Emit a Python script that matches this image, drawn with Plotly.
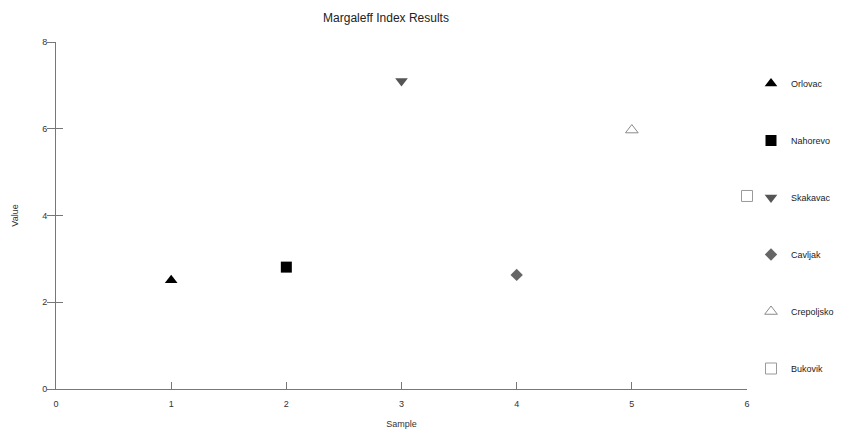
import plotly.graph_objects as go

sites = ["Orlovac", "Nahorevo", "Skakavac", "Cavljak", "Crepoljsko", "Bukovik"]
samples = [1, 2, 3, 4, 5, 6]
values = [2.51, 2.81, 7.10, 2.63, 5.97, 4.45]
symbols = ["triangle-up", "square", "triangle-down", "diamond", "triangle-up-open", "square-open"]
colors = ["#000000", "#000000", "#555555", "#666666", "#8a8a8a", "#9a9a9a"]
sizes = [11, 11, 11, 9.5, 11, 11]
x_ticks = [0, 1, 2, 3, 4, 5, 6]
y_ticks = [0, 2, 4, 6, 8]

FONT = "Liberation Sans, Arial, sans-serif"
# the page adds an 8px body margin, so the figure is 8px smaller and margins shifted
W, H = 836, 424
L, T, B, R = 48, 34, 43, 97
PW, PH = W - L - R, H - T - B

fig = go.Figure()
for i, name in enumerate(sites):
    fig.add_trace(go.Scatter(
        x=[samples[i]], y=[values[i]], mode="markers", name=name,
        legendgroup=name, cliponaxis=False,
        marker=dict(symbol=symbols[i], size=sizes[i], color=colors[i],
                    line=dict(width=1 if "open" in symbols[i] else 0, color=colors[i])),
    ))
# invisible helper trace to show inner half of the y ticks
fig.add_trace(go.Scatter(x=[samples[0]], y=[values[0]], yaxis="y2", mode="markers",
                         marker=dict(opacity=0), showlegend=False, hoverinfo="skip"))

fig.update_layout(
    width=W, height=H,
    margin=dict(l=L, r=R, t=T, b=B, autoexpand=False),
    paper_bgcolor="white", plot_bgcolor="white",
    font=dict(family=FONT, size=9, color="#333333"),
    title=dict(text="Margaleff Index Results", x=(386 - 8 - L) / PW, xref="paper",
               xanchor="center", y=1 - 10 / H, yanchor="middle",
               font=dict(size=12, color="#222222"), automargin=False),
    xaxis=dict(range=[0, 6], tickvals=x_ticks, showgrid=False, zeroline=False,
               showline=True, linecolor="#777777", linewidth=1,
               ticks="inside", ticklen=7, tickcolor="#777777",
               ticklabelstandoff=6, automargin=False,
               title=dict(text="Sample", standoff=12, font=dict(size=9))),
    yaxis=dict(range=[0, 8], tickvals=y_ticks, showgrid=False, zeroline=False,
               showline=True, linecolor="#777777", linewidth=1,
               ticks="outside", ticklen=8, tickcolor="#777777",
               ticklabelstandoff=-2, automargin=False,
               title=dict(text="Value", standoff=22, font=dict(size=9))),
    yaxis2=dict(range=[0, 8], tickvals=y_ticks, overlaying="y", side="left",
                showgrid=False, zeroline=False, showline=False,
                ticks="inside", ticklen=7, tickcolor="#777777", showticklabels=False),
    legend=dict(x=1.0 + (743 - (W - R)) / PW, xanchor="left", y=1 - 27 / PH, yanchor="top",
                tracegroupgap=38, font=dict(size=9, color="#222222"),
                itemwidth=30, bgcolor="rgba(0,0,0,0)"),
    showlegend=True,
)
fig.write_html("out.html")
